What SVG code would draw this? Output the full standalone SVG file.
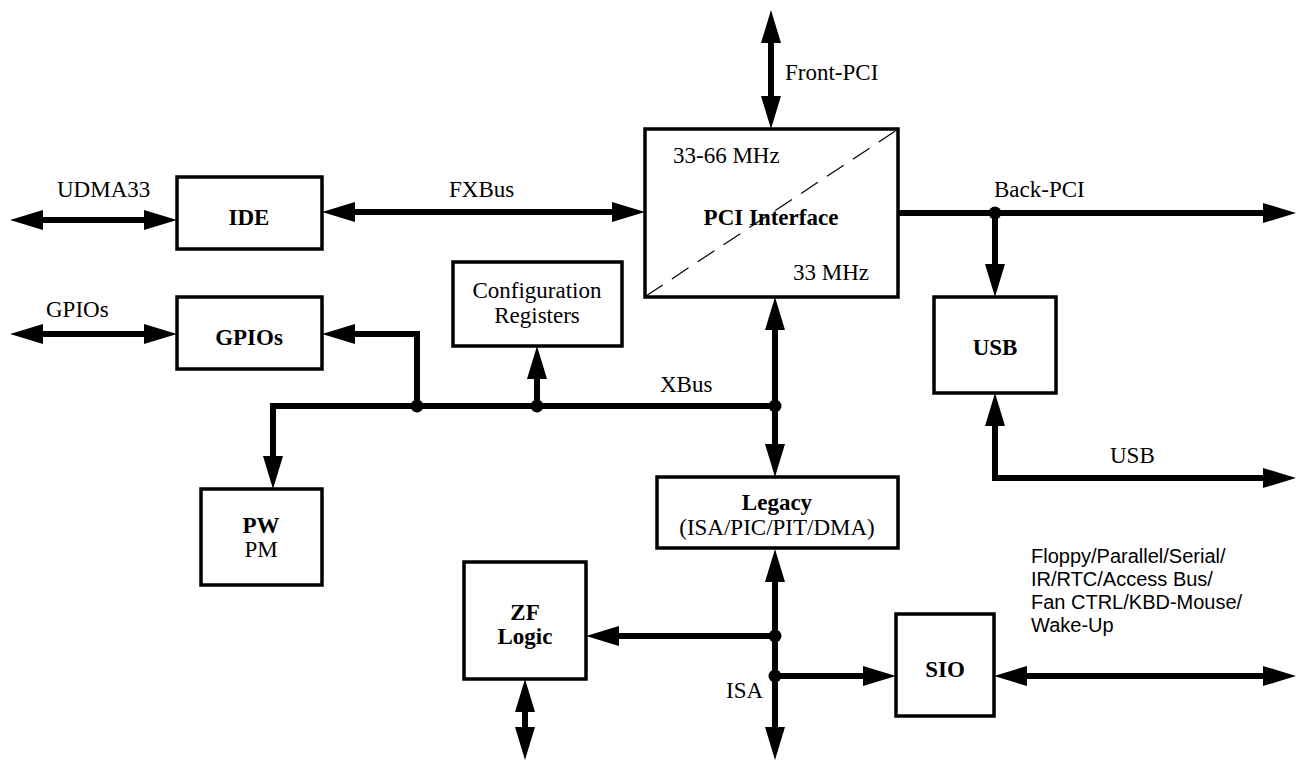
<svg xmlns="http://www.w3.org/2000/svg" width="1297" height="761" viewBox="0 0 1297 761">
<style>
.box{fill:#fff;stroke:#000;stroke-width:3.5}
.t{font-family:"Liberation Serif","Times New Roman",serif;font-size:23px;fill:#000}
.b{font-weight:bold}
.m{text-anchor:middle}
.s{font-family:"Liberation Sans",Arial,sans-serif;font-size:20px;fill:#000}
.c{fill:none;stroke:#000;stroke-width:6}
.a2{marker-start:url(#ah);marker-end:url(#ah)}
.a1{marker-end:url(#ah)}
</style>
<defs>
<marker id="ah" markerUnits="userSpaceOnUse" markerWidth="34" markerHeight="22" viewBox="0 0 34 22" refX="13" refY="11" orient="auto-start-reverse">
<path d="M0,1 L33,11 L0,21 z" fill="#000"/>
</marker>
</defs>
<rect width="1297" height="761" fill="#fff"/>
<g id="connectors">
<path class="c a2" d="M30,220 H157"/>
<path class="c a2" d="M342,212 H625"/>
<path class="c a2" d="M771,30 V109"/>
<path class="c a1" d="M898,213 H1276"/>
<path class="c a1" d="M995,213 V277"/>
<path class="c a2" d="M995,413 V478 H1276"/>
<path class="c a2" d="M30,334 H157"/>
<path class="c a1" d="M417,406 V334 H342"/>
<path class="c a1" d="M775,406 H273 V469"/>
<path class="c a1" d="M537,406 V366"/>
<path class="c a2" d="M775,317 V457"/>
<path class="c a2" d="M775,569 V740"/>
<path class="c a1" d="M775,636 H606"/>
<path class="c a1" d="M775,676 H876"/>
<path class="c a2" d="M525,699 V740"/>
<path class="c a2" d="M1014,676 H1276"/>
<g fill="#000">
<circle cx="995" cy="213" r="6.5"/>
<circle cx="417" cy="406" r="6.5"/>
<circle cx="537" cy="406" r="6.5"/>
<circle cx="775" cy="406" r="6.5"/>
<circle cx="775" cy="636" r="6.5"/>
<circle cx="775" cy="676" r="6.5"/>
</g>
</g>
<g id="labels">
<text class="t" x="57" y="197">UDMA33</text>
<text class="t" x="449" y="197">FXBus</text>
<text class="t" x="785" y="80">Front-PCI</text>
<text class="t" x="994" y="197">Back-PCI</text>
<text class="t" x="46" y="317">GPIOs</text>
<text class="t" x="660" y="392">XBus</text>
<text class="t" x="1110" y="463">USB</text>
<text class="t" x="726" y="698">ISA</text>
<text class="s" x="1031" y="563">Floppy/Parallel/Serial/</text>
<text class="s" x="1031" y="586">IR/RTC/Access Bus/</text>
<text class="s" x="1031" y="609">Fan CTRL/KBD-Mouse/</text>
<text class="s" x="1031" y="632">Wake-Up</text>
</g>
<g id="ide"><rect class="box" x="177" y="177" width="145" height="72"/><text class="t b m" x="249" y="225">IDE</text></g>
<g id="gpios"><rect class="box" x="177" y="297" width="145" height="72"/><text class="t b m" x="249" y="345">GPIOs</text></g>
<g id="config"><rect class="box" x="453" y="262" width="169" height="84"/><text class="t m" x="537" y="298">Configuration</text><text class="t m" x="537" y="323">Registers</text></g>
<g id="pci"><rect class="box" x="645" y="129" width="253" height="168"/>
<line x1="646" y1="296" x2="897" y2="130" stroke="#000" stroke-width="1.2" stroke-dasharray="20 11"/>
<text class="t" x="673" y="163">33-66 MHz</text>
<text class="t b m" x="771" y="225">PCI Interface</text>
<text class="t" x="793" y="280">33 MHz</text></g>
<g id="usb"><rect class="box" x="934" y="297" width="122" height="96"/><text class="t b m" x="995" y="355">USB</text></g>
<g id="pw"><rect class="box" x="201" y="489" width="121" height="96"/><text class="t b m" x="261" y="533">PW</text><text class="t m" x="261" y="557">PM</text></g>
<g id="legacy"><rect class="box" x="657" y="477" width="241" height="71"/><text class="t b m" x="777" y="510">Legacy</text><text class="t m" x="777" y="535">(ISA/PIC/PIT/DMA)</text></g>
<g id="zf"><rect class="box" x="464" y="562" width="122" height="117"/><text class="t b m" x="525" y="620">ZF</text><text class="t b m" x="525" y="644">Logic</text></g>
<g id="sio"><rect class="box" x="896" y="614" width="98" height="102"/><text class="t b m" x="945" y="677">SIO</text></g>
</svg>
